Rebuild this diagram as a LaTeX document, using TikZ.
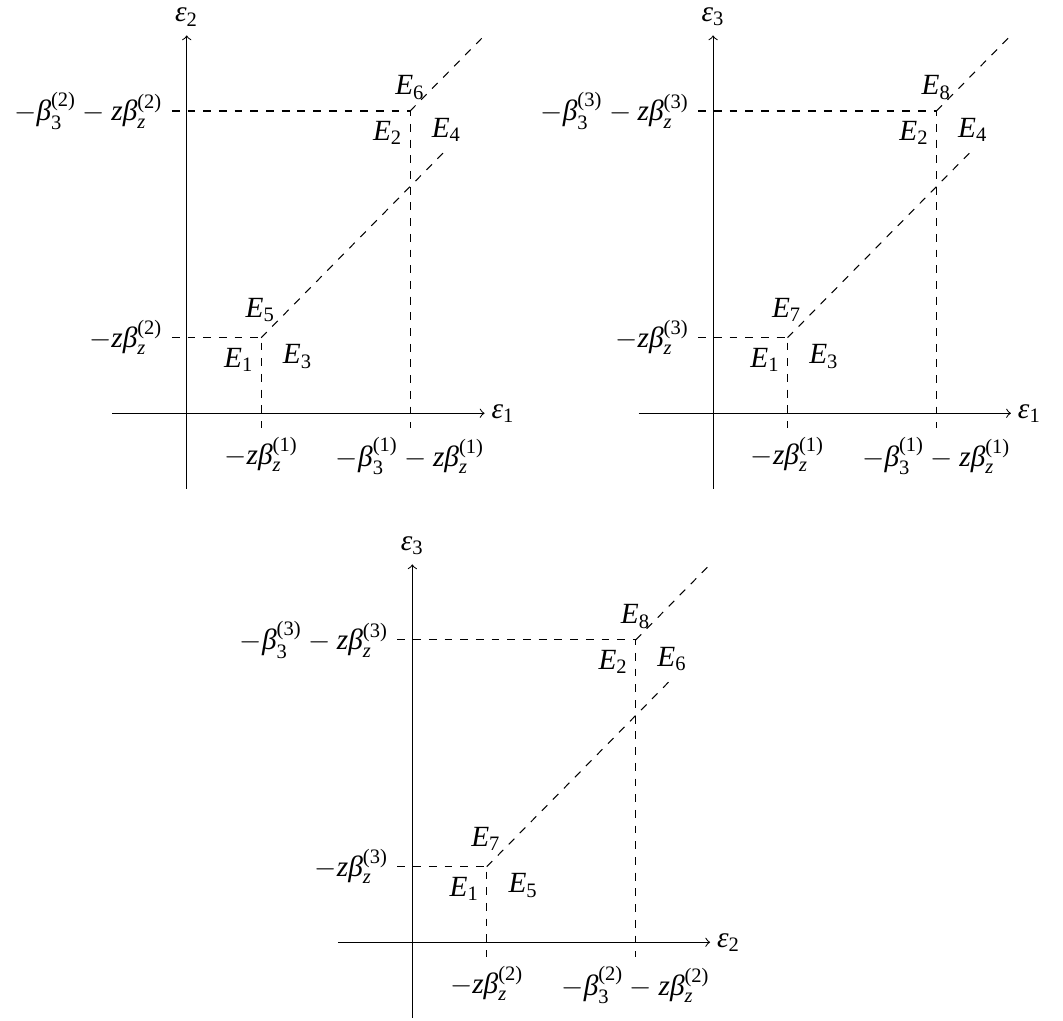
\documentclass[tikz,border=0pt]{standalone}
\usepackage{amsmath}
\usepackage{fontspec}
\newfontfamily\tms{Liberation Serif}
\newcommand{\mlet}[1]{\text{\tms\itshape #1}}
\newcommand{\mnum}[1]{\text{\tms #1}}
\usetikzlibrary{calc}
\tikzset{
  every picture/.style={font=\fontsize{11.2}{13}\selectfont},
  eje/.style={->, line width=0.4pt},
  guia/.style={dashed, line width=0.4pt},
}

\begin{document}
\begin{tikzpicture}[x=1cm, y=1.015cm]
  \useasboundingbox (-2.508,-8.042) rectangle (11.77,5.469);
  \foreach \p/\sx/\sy/\h/\v/\ea/\eb/\ec/\ed in {a/0/0/1/2/3/4/5/6, b/7.07/0/1/3/3/4/7/8, c/3.03/-7/2/3/5/6/7/8} {
    \begin{scope}[shift={(\sx,\sy)}]
      % ejes
      \coordinate (\p xa) at (-1,0);
      \coordinate (\p ya) at (0,-1);
      \node[inner sep=2.5pt, right] (\p ex) at (4,0) {$\mlet{ε}_{\mnum{\h}}$};
      \node[above] (\p ey) at (0,5) {$\mlet{ε}_{\mnum{\v}}$};
      \draw[eje] (\p xa) -- (\p ex.west);
      \draw[eje] (\p ya) -- (\p ey.south);
      % esquinas
      \coordinate (\p l) at (1,1);
      \coordinate (\p u) at (3,4);
      \coordinate (\p ld) at (1,-0.2);
      \coordinate (\p ud) at (3,-0.2);
      \coordinate (\p lh) at (-0.2,1);
      \coordinate (\p uh) at (-0.2,4);
      \coordinate (\p lr) at (3.5,3.5);
      \coordinate (\p ur) at (4,5);
      \draw[guia] (\p lh) -- (\p l) -- (\p ld);
      \draw[guia] (\p uh) -- (\p u) -- (\p ud);
      \draw[guia] (\p l) -- (\p lr);
      \draw[guia] (\p u) -- (\p ur);
      % valores
      \node[below] (\p t1) at (\p ld) {$-\mlet{z}\mlet{β}_{\mlet{z}}^{\mnum{(\h)}}$};
      \node[below] (\p t2) at (\p ud) {$-\mlet{β}_{\mnum{3}}^{\mnum{(\h)}}-\mlet{z}\mlet{β}_{\mlet{z}}^{\mnum{(\h)}}$};
      \node[left] (\p s1) at (\p lh) {$-\mlet{z}\mlet{β}_{\mlet{z}}^{\mnum{(\v)}}$};
      \node[left] (\p s2) at (\p uh) {$-\mlet{β}_{\mnum{3}}^{\mnum{(\v)}}-\mlet{z}\mlet{β}_{\mlet{z}}^{\mnum{(\v)}}$};
      % regiones
      \node (\p E1) at ($(\p l)+(-0.3,-0.29)$) {$\mlet{E}_{\mnum{1}}$};
      \node (\p Ea) at ($(\p l)+(0.49,-0.25)$) {$\mlet{E}_{\mnum{\ea}}$};
      \node (\p Ec) at ($(\p l)+(-0.01,0.37)$) {$\mlet{E}_{\mnum{\ec}}$};
      \node (\p E2) at ($(\p u)+(-0.3,-0.29)$) {$\mlet{E}_{\mnum{2}}$};
      \node (\p Eb) at ($(\p u)+(0.49,-0.25)$) {$\mlet{E}_{\mnum{\eb}}$};
      \node (\p Ed) at ($(\p u)+(0,0.31)$) {$\mlet{E}_{\mnum{\ed}}$};
    \end{scope}
  }
\end{tikzpicture}
\end{document}
